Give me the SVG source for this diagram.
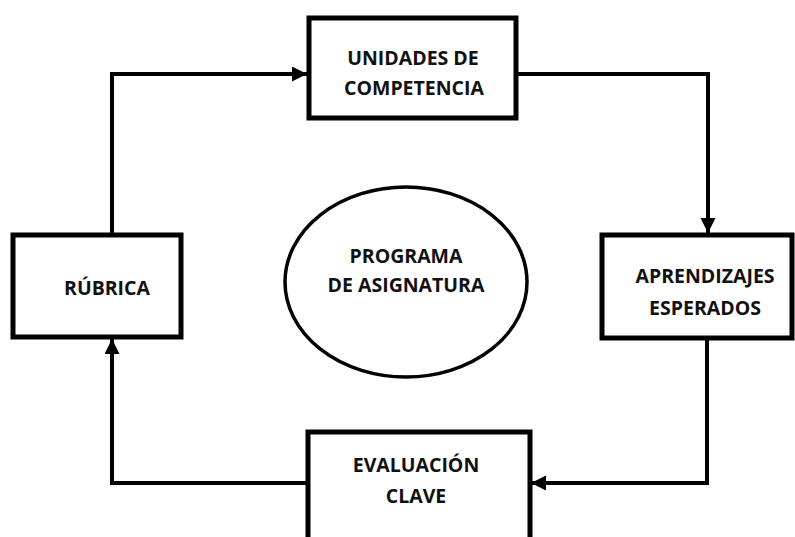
<svg xmlns="http://www.w3.org/2000/svg" width="795" height="537" viewBox="0 0 795 537">
<defs>
<style>
.box{fill:#fff;stroke:#000;stroke-width:5}
.ell{fill:#fff;stroke:#000;stroke-width:3.5}
.conn{fill:none;stroke:#000;stroke-width:4;stroke-linejoin:miter}
.t{font-family:"Open Sans","Liberation Sans",sans-serif;font-weight:700;font-size:19.5px;fill:#111;text-anchor:middle}
</style>
<marker id="ah" markerUnits="userSpaceOnUse" markerWidth="16" markerHeight="16" refX="15" refY="7.5" orient="auto">
<path d="M0,0 L15,7.5 L0,15 Z" fill="#000"/>
</marker>
</defs>
<rect width="795" height="537" fill="#fff"/>
<g id="connectors">
<path class="conn" d="M112,235 V74 H307" marker-end="url(#ah)"/>
<path class="conn" d="M516,74 H708 V233" marker-end="url(#ah)"/>
<path class="conn" d="M707,338 V483 H531" marker-end="url(#ah)"/>
<path class="conn" d="M308,483 H112 V339" marker-end="url(#ah)"/>
</g>
<g id="unidades">
<rect class="box" x="309" y="18" width="207" height="100"/>
<text class="t" x="413" y="65">UNIDADES DE</text>
<text class="t" x="414" y="95">COMPETENCIA</text>
</g>
<g id="aprendizajes">
<rect class="box" x="602" y="235" width="190" height="103"/>
<text class="t" x="705" y="283">APRENDIZAJES</text>
<text class="t" x="705" y="315">ESPERADOS</text>
</g>
<g id="evaluacion">
<rect class="box" x="308" y="432" width="222" height="120"/>
<text class="t" x="416" y="472">EVALUACIÓN</text>
<text class="t" x="416" y="503">CLAVE</text>
</g>
<g id="rubrica">
<rect class="box" x="13" y="235" width="168" height="102"/>
<text class="t" x="107" y="295">RÚBRICA</text>
</g>
<g id="programa">
<ellipse class="ell" cx="406" cy="282" rx="121" ry="95"/>
<text class="t" x="406" y="263">PROGRAMA</text>
<text class="t" x="406" y="292">DE ASIGNATURA</text>
</g>
</svg>
